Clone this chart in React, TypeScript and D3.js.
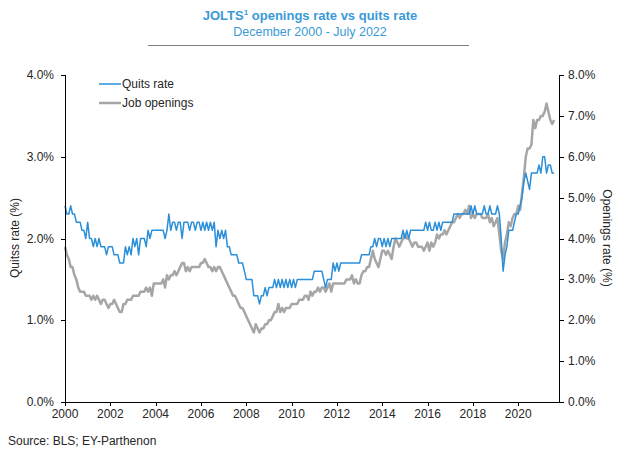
import React from "react";
import * as d3 from "d3";

// Monthly series, Dec 2000 - Jul 2022 (index 0 = Dec 2000)
const quitsRate: number[] = [
  2.4, 2.3, 2.3, 2.4, 2.3, 2.3, 2.2, 2.2, 2.2, 2.1, 2.1, 2.0,
  2.2, 2.0, 2.0, 1.9, 2.0, 1.9, 2.0, 1.9, 1.9, 1.9, 1.8, 1.9,
  1.9, 1.9, 1.8, 1.8, 1.8, 1.7, 1.7, 1.7, 1.9, 1.8, 1.9, 1.8,
  2.0, 1.9, 2.0, 1.8, 2.0, 2.0, 2.0, 1.9, 2.1, 2.0, 2.1, 2.1,
  2.1, 2.1, 2.1, 2.1, 2.1, 2.0, 2.1, 2.3, 2.1, 2.2, 2.2, 2.1,
  2.2, 2.2, 2.0, 2.2, 2.2, 2.2, 2.1, 2.2, 2.2, 2.1, 2.2, 2.2,
  2.1, 2.2, 2.1, 2.2, 2.1, 2.2, 2.1, 2.2, 1.9, 2.1, 2.0, 2.1,
  2.0, 2.1, 1.9, 1.9, 1.8, 1.8, 1.8, 1.8, 1.7, 1.7, 1.7, 1.6,
  1.5, 1.5, 1.5, 1.5, 1.3, 1.3, 1.3, 1.2, 1.3, 1.3, 1.4, 1.3,
  1.4, 1.4, 1.4, 1.5, 1.4, 1.5, 1.4, 1.5, 1.4, 1.5, 1.4, 1.5,
  1.4, 1.5, 1.4, 1.5, 1.5, 1.5, 1.5, 1.5, 1.5, 1.5, 1.5, 1.5,
  1.6, 1.6, 1.6, 1.6, 1.6, 1.5, 1.4, 1.5, 1.5, 1.5, 1.7, 1.6,
  1.7, 1.6, 1.7, 1.7, 1.7, 1.7, 1.7, 1.7, 1.7, 1.7, 1.7, 1.7,
  1.7, 1.8, 1.8, 1.8, 1.8, 1.8, 1.9, 1.9, 2.0, 1.9, 2.0, 2.0,
  1.9, 2.0, 1.9, 2.0, 1.9, 2.0, 2.0, 2.0, 2.0, 2.0, 2.0, 2.1,
  2.0, 2.1, 2.0, 2.1, 2.1, 2.1, 2.1, 2.1, 2.1, 2.1, 2.1, 2.2,
  2.1, 2.2, 2.1, 2.1, 2.2, 2.1, 2.2, 2.1, 2.2, 2.2, 2.2, 2.2,
  2.2, 2.2, 2.3, 2.3, 2.3, 2.3, 2.3, 2.3, 2.3, 2.3, 2.3, 2.4,
  2.3, 2.4, 2.3, 2.3, 2.3, 2.3, 2.4, 2.3, 2.3, 2.4, 2.3, 2.3,
  2.3, 2.4, 2.3, 2.0, 1.6, 1.8, 1.9, 2.1, 2.1, 2.1, 2.2, 2.3,
  2.3, 2.4, 2.5, 2.7, 2.8, 2.7, 2.6, 2.8, 2.8, 2.8, 2.8, 2.9,
  2.8, 3.0, 3.0, 2.8, 2.9, 2.9, 2.8, 2.8,
];

const openingsRate: number[] = [
  3.8, 3.6, 3.5, 3.3, 3.3, 3.1, 3.0, 2.8, 2.7, 2.7, 2.7, 2.6,
  2.6, 2.6, 2.5, 2.6, 2.5, 2.6, 2.5, 2.4, 2.5, 2.5, 2.4, 2.3,
  2.4, 2.4, 2.5, 2.4, 2.3, 2.2, 2.2, 2.4, 2.4, 2.5, 2.5, 2.5,
  2.6, 2.6, 2.6, 2.6, 2.7, 2.7, 2.7, 2.8, 2.7, 2.8, 2.6, 2.9,
  2.9, 2.9, 2.9, 2.9, 3.0, 2.8, 3.1, 3.0, 3.1, 3.1, 3.2, 3.1,
  3.2, 3.3, 3.4, 3.4, 3.2, 3.3, 3.2, 3.3, 3.3, 3.3, 3.3, 3.3,
  3.4, 3.4, 3.5, 3.4, 3.3, 3.3, 3.2, 3.3, 3.2, 3.3, 3.3, 3.2,
  3.1, 3.0, 2.9, 2.8, 2.7, 2.6, 2.6, 2.5, 2.4, 2.3, 2.3, 2.2,
  2.1, 2.0, 1.9, 1.8, 1.7, 1.9, 1.8, 1.7, 1.8, 1.8, 1.9, 1.9,
  2.0, 2.0, 2.1, 2.2, 2.2, 2.4, 2.2, 2.3, 2.2, 2.3, 2.3, 2.3,
  2.4, 2.4, 2.4, 2.4, 2.5, 2.5, 2.5, 2.6, 2.6, 2.5, 2.7, 2.6,
  2.7, 2.7, 2.8, 2.7, 2.8, 2.8, 2.7, 2.8, 2.9, 2.7, 2.9, 2.9,
  2.9, 2.9, 2.9, 2.9, 2.9, 3.0, 3.0, 3.0, 3.1, 2.9, 3.0, 2.9,
  2.9, 3.1, 3.2, 3.2, 3.3, 3.3, 3.5, 3.7, 3.5, 3.4, 3.3, 3.5,
  3.7, 3.7, 3.6, 3.7, 3.6, 3.5, 3.8, 4.0, 3.9, 3.8, 3.9, 4.0,
  4.1, 4.0, 4.0, 3.9, 3.8, 3.9, 3.9, 3.8, 3.8, 3.8, 3.7, 3.8,
  3.9, 3.7, 3.9, 3.8, 3.9, 4.1, 4.0, 4.1, 4.1, 4.2, 4.1, 4.2,
  4.3, 4.4, 4.4, 4.5, 4.6, 4.5, 4.6, 4.6, 4.7, 4.6, 4.8, 4.5,
  4.6, 4.5, 4.6, 4.6, 4.6, 4.5, 4.5, 4.5, 4.6, 4.4, 4.5, 4.3,
  4.4, 4.5, 4.1, 3.7, 3.5, 3.9, 4.1, 4.4, 4.3, 4.5, 4.6, 4.6,
  4.8, 4.7, 5.1, 5.5, 6.0, 6.2, 6.2, 6.3, 6.9, 6.7, 6.9, 6.9,
  7.0, 7.0, 7.1, 7.3, 7.1, 6.9, 6.8, 6.9,
];

const xTickIndex: number[] = [0, 24, 48, 72, 96, 120, 144, 168, 192, 216, 240];
const xTickLabels: string[] = ["2000", "2002", "2004", "2006", "2008", "2010", "2012", "2014", "2016", "2018", "2020"];
const leftTicks: number[] = [0, 1, 2, 3, 4];
const rightTicks: number[] = [0, 1, 2, 3, 4, 5, 6, 7, 8];
const seriesNames: string[] = ["Quits rate", "Job openings"];

const BLUE = "#2B8FD9";
const GRAY = "#A6A6A6";
const TITLE = "#3A9AD6";
const FONT = "'Liberation Sans', Arial, sans-serif";

export default function App() {
  const W = 624, H = 461;
  const left = 65, right = 559, top = 75, bottom = 402;

  const x = d3.scaleLinear().domain([0, 261.6]).range([left, right]);
  const yL = d3.scaleLinear().domain([0, 4]).range([bottom, top]);
  const yR = d3.scaleLinear().domain([0, 8]).range([bottom, top]);

  const quitsLine = d3.line<number>().x((_, i) => x(i)).y((d) => yL(d));
  const openLine = d3.line<number>().x((_, i) => x(i)).y((d) => yR(d));

  return (
    <svg width={W} height={H} style={{ position: "absolute", left: 0, top: 0, background: "#fff" }} fontFamily={FONT}>
      <rect x={0} y={0} width={W} height={H} fill="#fff" />
      {/* Title */}
      <text x={310} y={20} textAnchor="middle" fontSize={13} fontWeight="bold" fill={TITLE}>
        JOLTS<tspan fontSize={8} dy={-5}>1</tspan><tspan dy={5}> openings rate vs quits rate</tspan>
      </text>
      <text x={310} y={36} textAnchor="middle" fontSize={12.5} fill={TITLE}>December 2000 - July 2022</text>
      <line x1={148} x2={469} y1={45.5} y2={45.5} stroke="#808080" strokeWidth={1} />

      {/* Lines */}
      <path d={openLine(openingsRate) || ""} fill="none" stroke={GRAY} strokeWidth={2.5} strokeLinejoin="round" />
      <path d={quitsLine(quitsRate) || ""} fill="none" stroke={BLUE} strokeWidth={1.5} strokeLinejoin="round" />

      {/* Axes */}
      <g stroke="#000" strokeWidth={1} fill="none">
        <line x1={left + 0.5} x2={left + 0.5} y1={top} y2={bottom} />
        <line x1={right + 0.5} x2={right + 0.5} y1={top} y2={bottom} />
        <line x1={left} x2={right + 1} y1={bottom + 0.5} y2={bottom + 0.5} />
        {leftTicks.map((t) => (
          <line key={"lt" + t} x1={left - 4} x2={left + 0.5} y1={Math.round(yL(t)) + 0.5} y2={Math.round(yL(t)) + 0.5} />
        ))}
        {rightTicks.map((t) => (
          <line key={"rt" + t} x1={right + 0.5} x2={right + 5} y1={Math.round(yR(t)) + 0.5} y2={Math.round(yR(t)) + 0.5} />
        ))}
        {xTickIndex.map((t) => (
          <line key={"xt" + t} x1={Math.round(x(t)) + 0.5} x2={Math.round(x(t)) + 0.5} y1={bottom} y2={bottom + 4} />
        ))}
      </g>
      <g fontSize={12} fill="#262626">
        {leftTicks.map((t) => (
          <text key={"ll" + t} x={54} y={yL(t) + 4} textAnchor="end">{t.toFixed(1) + "%"}</text>
        ))}
        {rightTicks.map((t) => (
          <text key={"rl" + t} x={568} y={yR(t) + 4} textAnchor="start">{t.toFixed(1) + "%"}</text>
        ))}
        {xTickIndex.map((t, i) => (
          <text key={"xl" + t} x={x(t)} y={418} textAnchor="middle">{xTickLabels[i]}</text>
        ))}
      </g>

      {/* Axis titles */}
      <text transform={`translate(19,238) rotate(-90)`} textAnchor="middle" fontSize={12} fill="#262626">Quitss rate (%)</text>
      <text transform={`translate(603,238) rotate(90)`} textAnchor="middle" fontSize={12} fill="#262626">Openings rate (%)</text>

      {/* Legend */}
      <g fontSize={12} fill="#262626">
        <line x1={99} x2={121} y1={84} y2={84} stroke={BLUE} strokeWidth={1.5} />
        <text x={122} y={88}>{seriesNames[0]}</text>
        <line x1={99} x2={121} y1={103} y2={103} stroke={GRAY} strokeWidth={2.5} />
        <text x={122} y={107}>{seriesNames[1]}</text>
      </g>

      {/* Source */}
      <text x={8} y={445} fontSize={12} fill="#262626">Source: BLS; EY-Parthenon</text>
    </svg>
  );
}
